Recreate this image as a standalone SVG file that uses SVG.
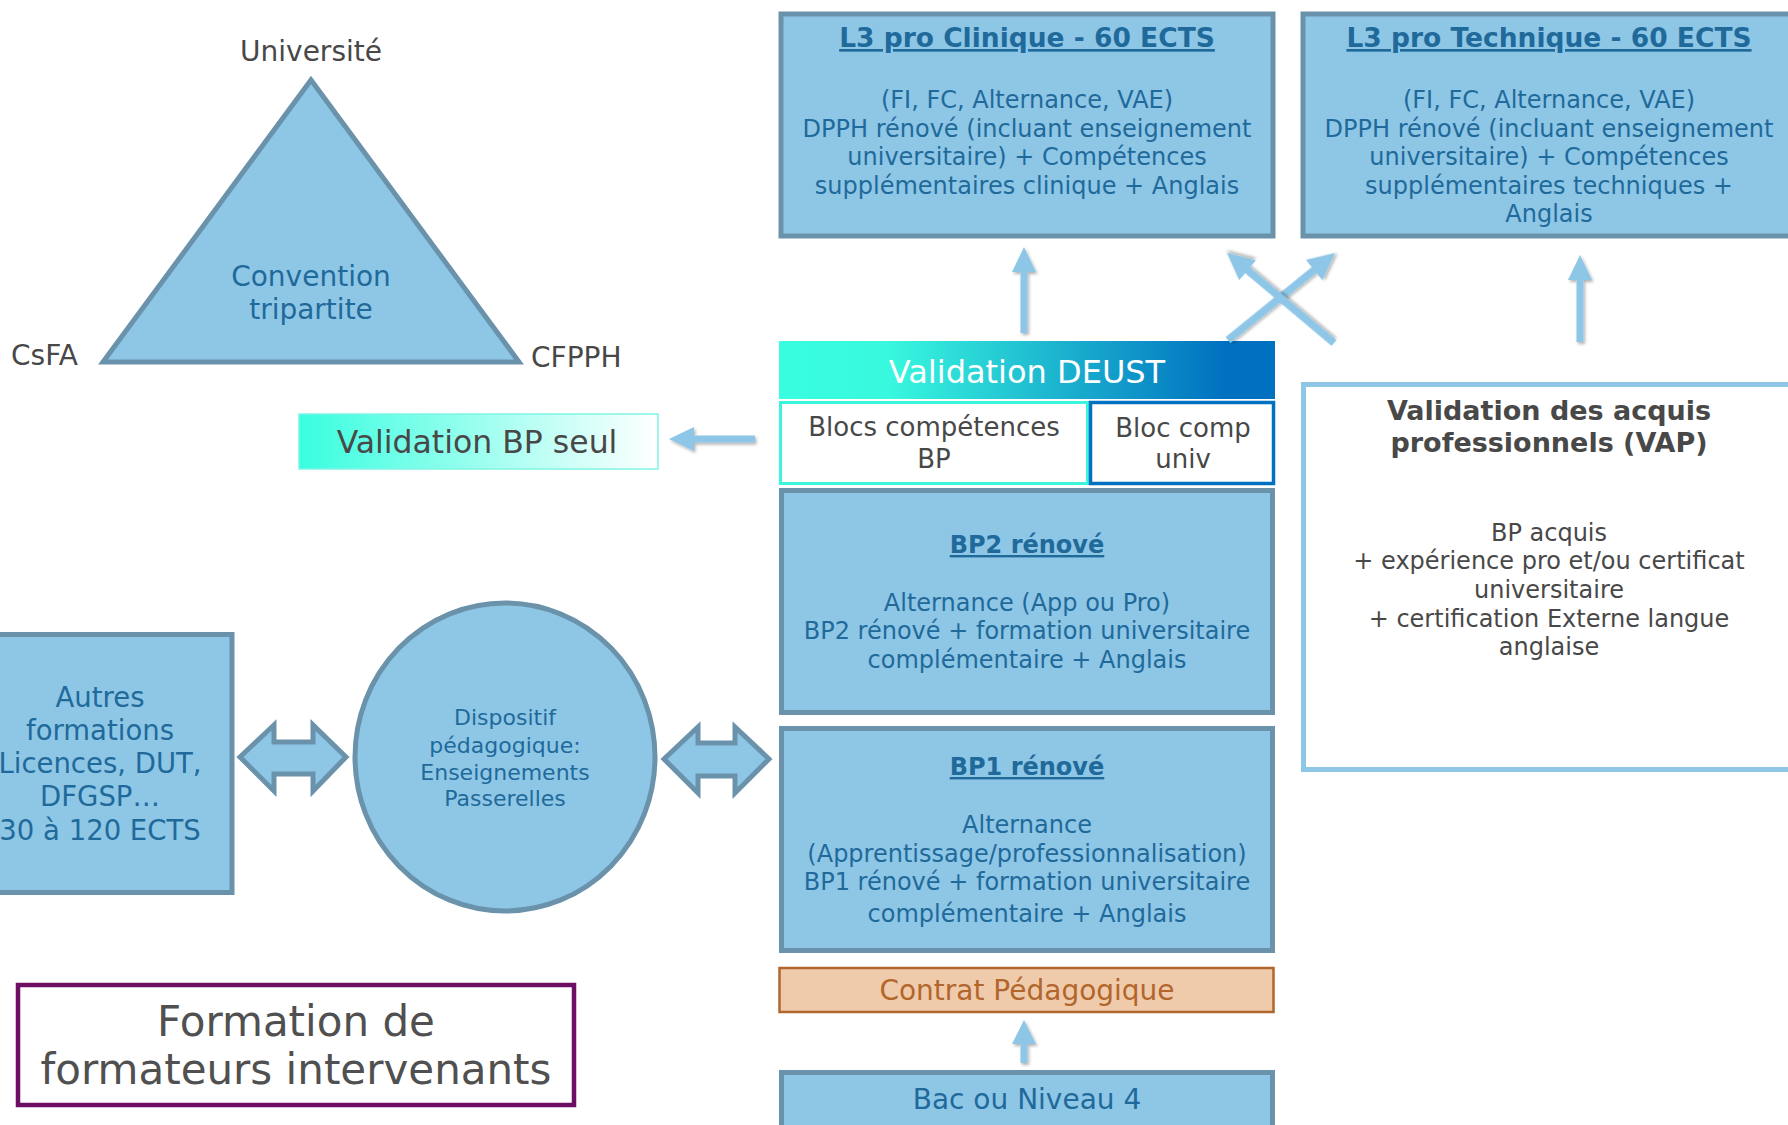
<svg xmlns="http://www.w3.org/2000/svg" width="1788" height="1125" viewBox="0 0 1788 1125">
<defs>
<style>
text{font-family:"DejaVu Sans",Verdana,sans-serif;text-anchor:middle}
.box{fill:#8EC6E6;stroke:#6A93AB;stroke-width:5}
.db{fill:#1F6A9A}
.gr{fill:#484848}
.t24{font-size:24px}
.title{font-weight:bold;text-decoration:underline}
.arr{fill:#8DC6E7;filter:url(#sh)}
.dbl{fill:#8EC6E6;stroke:#6A93AB;stroke-width:5;stroke-linejoin:miter}
</style>
<linearGradient id="gDeust" x1="0" y1="0" x2="1" y2="0">
<stop offset="0" stop-color="#38FEDF"/>
<stop offset="0.22" stop-color="#38F8DE"/>
<stop offset="0.9" stop-color="#0070C0"/>
<stop offset="1" stop-color="#0070C0"/>
</linearGradient>
<linearGradient id="gBP" x1="0" y1="0" x2="1" y2="0">
<stop offset="0" stop-color="#38FEDF"/>
<stop offset="1" stop-color="#FFFFFF"/>
</linearGradient>
<filter id="sh" x="-20%" y="-20%" width="140%" height="140%">
<feDropShadow dx="1.5" dy="2" stdDeviation="1.5" flood-color="#000" flood-opacity="0.3"/>
</filter>
</defs>

<g id="triangle">
<polygon points="311,80 519,362 103,362" class="box"/>
<text class="db" font-size="28" x="311" y="286">Convention</text>
<text class="db" font-size="28" x="311" y="319">tripartite</text>
</g>
<g id="label-universite"><text class="gr" font-size="28" x="311" y="61">Université</text></g>
<g id="label-csfa"><text class="gr" font-size="28" x="11" y="365" style="text-anchor:start">CsFA</text></g>
<g id="label-cfpph"><text class="gr" font-size="28" x="531" y="367" style="text-anchor:start">CFPPH</text></g>

<g id="l3-clinique">
<rect x="781" y="14" width="492" height="222" class="box"/>
<text class="db title" font-size="26.5" x="1027" y="47">L3 pro Clinique - 60 ECTS</text>
<text class="db t24" x="1027" y="108">(FI, FC, Alternance, VAE)</text>
<text class="db t24" x="1027" y="137">DPPH rénové (incluant enseignement</text>
<text class="db t24" x="1027" y="165">universitaire) + Compétences</text>
<text class="db t24" x="1027" y="194">supplémentaires clinique + Anglais</text>
</g>

<g id="l3-technique">
<rect x="1303" y="14" width="492" height="222" class="box"/>
<text class="db title" font-size="26.5" x="1549" y="47">L3 pro Technique - 60 ECTS</text>
<text class="db t24" x="1549" y="108">(FI, FC, Alternance, VAE)</text>
<text class="db t24" x="1549" y="137">DPPH rénové (incluant enseignement</text>
<text class="db t24" x="1549" y="165">universitaire) + Compétences</text>
<text class="db t24" x="1549" y="194">supplémentaires techniques +</text>
<text class="db t24" x="1549" y="222">Anglais</text>
</g>

<g id="validation-deust">
<rect x="779" y="341" width="496" height="58" fill="url(#gDeust)"/>
<text fill="#FFFFFF" font-size="32" x="1027" y="383">Validation DEUST</text>
</g>

<g id="blocs-bp">
<rect x="780.5" y="402.5" width="307" height="81" fill="#FFFFFF" stroke="#3CF5DC" stroke-width="3"/>
<text class="gr" font-size="26" x="934" y="436">Blocs compétences</text>
<text class="gr" font-size="26" x="934" y="468">BP</text>
</g>

<g id="bloc-univ">
<rect x="1090.5" y="402.5" width="183" height="81" fill="#FFFFFF" stroke="#0070C0" stroke-width="3.5"/>
<text class="gr" font-size="26" x="1183" y="437">Bloc comp</text>
<text class="gr" font-size="26" x="1183" y="468">univ</text>
</g>

<g id="validation-bp">
<rect x="299" y="414" width="359" height="55" fill="url(#gBP)" stroke="#7FF5E3" stroke-width="1.5"/>
<text class="gr" font-size="31.5" x="477" y="453">Validation BP seul</text>
</g>

<g id="vap">
<rect x="1303.5" y="384.5" width="492" height="385" fill="#FFFFFF" stroke="#8EC6E6" stroke-width="5"/>
<text class="gr" font-size="27" font-weight="bold" x="1549" y="420">Validation des acquis</text>
<text class="gr" font-size="27" font-weight="bold" x="1549" y="452">professionnels (VAP)</text>
<text class="gr t24" x="1549" y="541">BP acquis</text>
<text class="gr t24" x="1549" y="569">+ expérience pro et/ou certificat</text>
<text class="gr t24" x="1549" y="598">universitaire</text>
<text class="gr t24" x="1549" y="627">+ certification Externe langue</text>
<text class="gr t24" x="1549" y="655">anglaise</text>
</g>

<g id="bp2">
<rect x="781.5" y="490.5" width="491" height="222" class="box"/>
<text class="db title" font-size="24" x="1027" y="553">BP2 rénové</text>
<text class="db t24" x="1027" y="611">Alternance (App ou Pro)</text>
<text class="db t24" x="1027" y="639">BP2 rénové + formation universitaire</text>
<text class="db t24" x="1027" y="668">complémentaire + Anglais</text>
</g>

<g id="bp1">
<rect x="781.5" y="728.5" width="491" height="222" class="box"/>
<text class="db title" font-size="24" x="1027" y="775">BP1 rénové</text>
<text class="db t24" x="1027" y="833">Alternance</text>
<text class="db t24" x="1027" y="862">(Apprentissage/professionnalisation)</text>
<text class="db t24" x="1027" y="890">BP1 rénové + formation universitaire</text>
<text class="db t24" x="1027" y="922">complémentaire + Anglais</text>
</g>

<g id="contrat">
<rect x="779.5" y="968" width="494" height="44" fill="#EFCBAB" stroke="#B0662C" stroke-width="2.5"/>
<text fill="#B2662C" font-size="28" x="1027" y="1000">Contrat Pédagogique</text>
</g>

<g id="bac">
<rect x="781.5" y="1072.5" width="491" height="80" class="box"/>
<text class="db" font-size="28" x="1027" y="1109">Bac ou Niveau 4</text>
</g>

<g id="autres">
<rect x="-36" y="634.5" width="268" height="258" class="box"/>
<text class="db" font-size="27.5" x="100" y="707">Autres</text>
<text class="db" font-size="27.5" x="100" y="740">formations</text>
<text class="db" font-size="27.5" x="100" y="773">Licences, DUT,</text>
<text class="db" font-size="27.5" x="100" y="806">DFGSP…</text>
<text class="db" font-size="27.5" x="100" y="840">30 à 120 ECTS</text>
</g>

<g id="dispositif">
<ellipse cx="505" cy="757" rx="150" ry="154" class="box"/>
<text class="db" font-size="22" x="505" y="725">Dispositif</text>
<text class="db" font-size="22" x="505" y="753">pédagogique:</text>
<text class="db" font-size="22" x="505" y="780">Enseignements</text>
<text class="db" font-size="22" x="505" y="806">Passerelles</text>
</g>

<g id="formation-formateurs">
<rect x="18" y="985" width="556" height="120" fill="#FFFFFF" stroke="#6E0F63" stroke-width="4.5"/>
<text fill="#505050" font-size="42" x="296" y="1036">Formation de</text>
<text fill="#505050" font-size="42" x="296" y="1084">formateurs intervenants</text>
</g>

<g id="connectors">
<polygon class="arr" points="1024,247 1036,272 1027.5,272 1027.5,333 1020.5,333 1020.5,272 1012,272"/>
<polygon class="arr" points="1580,255 1592,280 1583.5,280 1583.5,342 1576.5,342 1576.5,280 1568,280"/>
<polygon class="arr" points="1024,1020 1036,1044 1027.5,1044 1027.5,1063 1020.5,1063 1020.5,1044 1012,1044"/>
<polygon class="arr" points="669,439 694,427 694,435.5 755,435.5 755,442.5 694,442.5 694,451"/>
<polygon class="arr" transform="translate(1228,340) rotate(-39.1)" points="0,-3.8 111,-3.8 111,-13 138,0 111,13 111,3.8 0,3.8"/>
<polygon class="arr" transform="translate(1334,343) rotate(-139.9)" points="0,-3.8 113,-3.8 113,-13 140,0 113,13 113,3.8 0,3.8"/>
<polygon class="dbl" points="240,757 274,725 274,742 313,742 313,725 346,757 313,791 313,774 274,774 274,791"/>
<polygon class="dbl" points="664,759 698,727 698,743 735,743 735,727 769,759 735,793 735,776 698,776 698,793"/>
</g>
</svg>
